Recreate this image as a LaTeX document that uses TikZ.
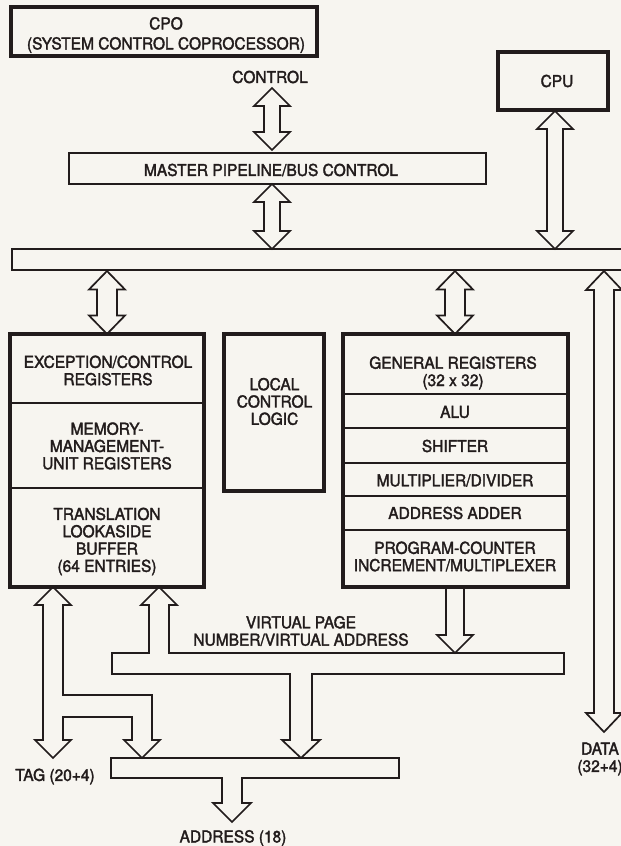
\documentclass[tikz,border=0pt]{standalone}
\usepackage{fontspec}
\setmainfont{TeX Gyre Heros}[FakeBold=2, FakeStretch=0.945]
\usetikzlibrary{calc}
\definecolor{ink}{RGB}{34,28,28}
\definecolor{paper}{RGB}{247,245,240}
\tikzset{
  heavy/.style={draw=ink, line width=3.4pt, inner sep=0pt, outer sep=0pt},
  light/.style={draw=ink, line width=1.7pt, inner sep=0pt, outer sep=0pt},
  ghost/.style={inner sep=0pt, outer sep=0pt},
  lbl/.style={text=ink, font=\fontsize{16.4}{17.3}\selectfont, align=center, inner sep=0pt},
  arr/.style={draw=ink, line width=1.7pt, line join=miter},
}
% #1 top tip, #2 bottom tip, #3 shaft half width, #4 head half width, #5 head length
\newcommand\dblarrow[5]{%
  \draw[arr] (#1) -- ++(#4,#5) -- ++(#3-#4,0) -- ($(#2)+(#3,-#5)$) -- ++(#4-#3,0)
    -- (#2) -- ++(-#4,-#5) -- ++(#4-#3,0) -- ($(#1)+(-#3,#5)$) -- ++(#3-#4,0) -- cycle;}
\begin{document}
\begin{tikzpicture}[x=1pt,y=-1pt]
\fill[paper] (0,0) rectangle (621,846);
\useasboundingbox (0,0) rectangle (621,846);

% ---------- boxes ----------
\node[heavy, minimum width=306pt, minimum height=49pt] (cpo) at (164,31.5) {};
\node[lbl] (cpoT) at (166,35) {CPO\\[2.7pt](SYSTEM CONTROL COPROCESSOR)};
\node[lbl] (ctrl) at (270,77) {CONTROL};

\node[light, minimum width=417pt, minimum height=31pt] (master) at (277.5,168.5) {};
\node[lbl] (masterT) at (271,170) {MASTER PIPELINE/BUS CONTROL};

\node[heavy, minimum width=110pt, minimum height=58pt] (cpu) at (553,81) {};
\node[lbl] (cpuT) at (557,81) {CPU};

% bus (open on the right)
\node[ghost, minimum width=630pt, minimum height=21pt] (bus) at (327,259.5) {};
\draw[light] (bus.north east) -- (bus.north west) -- (bus.south west) -- (bus.south east);

% left box
\node[light, minimum width=194pt, minimum height=69pt] (exc) at (107,368.5) {};
\node[light, minimum width=194pt, minimum height=85pt] (mmu) at (107,445.5) {};
\node[light, minimum width=194pt, minimum height=99pt] (tlb) at (107,537.5) {};
\draw[heavy] (exc.north west) rectangle (tlb.south east);
\node[lbl] (excT) at (108,370.5) {EXCEPTION/CONTROL\\REGISTERS};
\node[lbl] (mmuT) at (107,446) {MEMORY-\\MANAGEMENT-\\UNIT REGISTERS};
\node[lbl] (tlbT) at (107,541.5) {TRANSLATION\\LOOKASIDE\\BUFFER\\(64 ENTRIES)};

% local control logic
\node[heavy, minimum width=100pt, minimum height=157pt] (lcl) at (274,412.5) {};
\node[lbl] (lclT) at (274.5,401.5) {LOCAL\\CONTROL\\LOGIC};

% right box
\node[light, minimum width=225pt, minimum height=60pt] (gen) at (455.5,364) {};
\node[light, minimum width=225pt, minimum height=34pt] (alu) at (455.5,411) {};
\node[light, minimum width=225pt, minimum height=35pt] (shf) at (455.5,445.5) {};
\node[light, minimum width=225pt, minimum height=33pt] (mul) at (455.5,479.5) {};
\node[light, minimum width=225pt, minimum height=34pt] (add) at (455.5,513) {};
\node[light, minimum width=225pt, minimum height=57pt] (pc) at (455.5,558.5) {};
\draw[heavy] (gen.north west) rectangle (pc.south east);
\node[lbl] (genT) at (453,373) {GENERAL REGISTERS\\(32 x 32)};
\node[lbl] (aluT) at (455,412) {ALU};
\node[lbl] (shfT) at (455,446) {SHIFTER};
\node[lbl] (mulT) at (455,480.5) {MULTIPLIER/DIVIDER};
\node[lbl] (addT) at (455,513) {ADDRESS ADDER};
\node[lbl] (pcT) at (455,556.5) {PROGRAM-COUNTER\\INCREMENT/MULTIPLEXER};

% ---------- upper arrows ----------
\coordinate (a1t) at (272,88);
\coordinate (a1b) at ($(master.north)+(-5.5,-3)$);
\dblarrow{a1t}{a1b}{8}{18}{18}
\coordinate (a2t) at ($(master.south)+(-5.5,0)$);
\coordinate (a2b) at (a2t |- bus.north);
\dblarrow{a2t}{a2b}{8}{18}{18}
\coordinate (a3t) at ($(cpu.south)+(2,1)$);
\coordinate (a3b) at (a3t |- bus.north);
\dblarrow{a3t}{a3b}{8}{18}{18}
\coordinate (a4t) at ($(exc.north |- bus.south)+(0,1)$);
\coordinate (a4b) at (exc.north);
\dblarrow{a4t}{a4b}{10}{18}{18.5}
\coordinate (a5t) at ($(bus.south -| gen.north)+(-0.5,1)$);
\coordinate (a5b) at ($(gen.north)+(-0.5,0)$);
\dblarrow{a5t}{a5b}{10}{18}{18.5}
\coordinate (a6t) at (604,271);
\coordinate (a6b) at (604,732);
\dblarrow{a6t}{a6b}{10}{18}{19}
\node[lbl] (dataT) at (600,759) {DATA\\(32+4)};

% ---------- lower buses ----------
% VPN bus with arm up to TLB
\node[ghost, minimum width=452pt, minimum height=21pt] (vpn) at (338,663.5) {};
\node[lbl] (vpnT) at (301,631) {VIRTUAL PAGE\\NUMBER/VIRTUAL ADDRESS};
\draw[arr] (149,605) -- (149,653) -- (vpn.north west) -- (vpn.south west) -- (290,674)
  -- (290,740) -- (282,740) -- (301,758) -- (320,740) -- (312,740) -- (312,674)
  -- (vpn.south east) -- (vpn.north east) -- (169,653) -- (169,605) -- (177,605)
  -- ($(tlb.south)+(52,0)$) -- (141,605) -- cycle;

% down arrow from the register block into the VPN bus
\coordinate (a7t) at ($(pc.south)+(-0.5,0)$);
\coordinate (a7b) at (a7t |- vpn.north);
\draw[arr] ($(a7t)+(-9,0)$) -- ($(a7b)+(-9,-18)$) -- ($(a7b)+(-18,-18)$) -- (a7b)
  -- ($(a7b)+(18,-18)$) -- ($(a7b)+(9,-18)$) -- ($(a7t)+(9,0)$);

% TAG arrow with branch to the address bus
\draw[arr] (43,605) -- (43,740) -- (35,740) -- (53,758) -- (71,740) -- (63,740)
  -- (63,717) -- (132,717) -- (132,740) -- (124,740) -- (142,758) -- (160,740)
  -- (152,740) -- (152,695) -- (63,695) -- (63,605) -- (71,605)
  -- ($(tlb.south)+(-54,0)$) -- (35,605) -- cycle;
\node[lbl] (tagT) at (55,776.5) {TAG (20+4)};

% address bus
\node[ghost, minimum width=288pt, minimum height=20pt] (abus) at (255,768) {};
\draw[arr] (abus.north west) -- (abus.north east) -- (abus.south east) -- (242,778)
  -- (242,803) -- (251,803) -- (232,822) -- (213,803) -- (222,803) -- (222,778)
  -- (abus.south west) -- cycle;
\node[lbl] (addrT) at (233,838) {ADDRESS (18)};
\end{tikzpicture}
\end{document}
